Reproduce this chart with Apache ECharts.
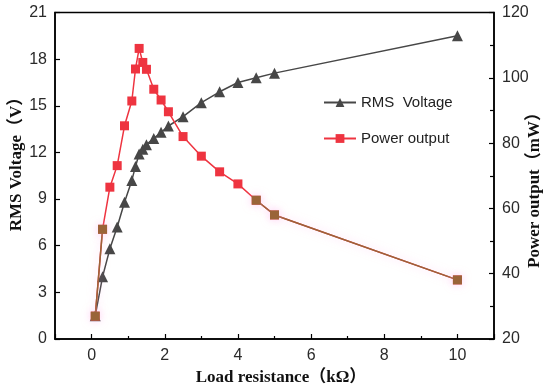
<!DOCTYPE html>
<html><head><meta charset="utf-8">
<script src="https://cdn.jsdelivr.net/npm/echarts@6/dist/echarts.min.js"></script>
<style>html,body{margin:0;padding:0;background:#fff}#c{width:550px;height:388px}</style>
</head><body><div id="c"></div>
<script>
// ---- data ----
const resistance  = [0.1, 0.3, 0.5, 0.7, 0.9, 1.1, 1.2, 1.3, 1.4, 1.5, 1.7, 1.9, 2.1, 2.5, 3.0, 3.5, 4.0, 4.5, 5.0, 10.0];
const rmsVoltage  = [1.5, 4.0, 5.8, 7.2, 8.8, 10.2, 11.1, 11.9, 12.2, 12.5, 12.9, 13.3, 13.7, 14.3, 15.2, 15.9, 16.5, 16.8, 17.1, 19.5];
const powerOutput = [27.0, 53.6, 66.5, 73.1, 85.3, 92.9, 102.7, 109.0, 104.7, 102.6, 96.5, 93.2, 89.6, 82.0, 76.0, 71.2, 67.5, 62.5, 58.0, 38.1];
const seriesNames = ['RMS  Voltage', 'Power output'];
const xTitle = 'Load resistance（kΩ）';
const leftTitle = 'RMS Voltage（V）';
const rightTitle = 'Power output（mW）';
// index ranges of the power curve that appear brown in the original
const brownRanges = [[0, 1], [17, 19]];

const vData = resistance.map((x, i) => [x, rmsVoltage[i]]);
const pData = resistance.map((x, i) => [x, powerOutput[i]]);

const GRAY = '#474747', RED = '#EE3440', BROWN = '#9A6438';
const titleFont = 'bold 17px "Liberation Serif", "Times New Roman", "Noto Sans CJK SC", serif';
const tickFont = { fontFamily: 'Liberation Sans', fontSize: 16, color: '#2a2a2a' };

const chart = echarts.init(document.getElementById('c'), null, { renderer: 'canvas' });

const brownSeries = brownRanges.map((r, k) => ({
  name: 'brown' + k,
  type: 'line',
  yAxisIndex: 1,
  data: pData.slice(r[0], r[1] + 1),
  symbol: 'rect',
  symbolSize: 9,
  z: 4,
  silent: true,
  lineStyle: { color: BROWN, width: 1.5, shadowColor: 'rgba(255,160,230,0.55)', shadowBlur: 8 },
  itemStyle: { color: BROWN, shadowColor: 'rgba(255,160,230,0.55)', shadowBlur: 8 },
  animation: false
}));

chart.setOption({
  animation: false,
  grid: { left: 55, right: 56, top: 12.5, bottom: 49, show: true, borderColor: '#000', borderWidth: 1.5, backgroundColor: 'transparent' },
  legend: {
    data: seriesNames,
    orient: 'vertical',
    left: 318, top: 90,
    itemWidth: 32, itemHeight: 11, itemGap: 21,
    textStyle: { fontFamily: 'Liberation Sans', fontSize: 15, color: '#222' }
  },
  xAxis: {
    type: 'value', min: -1, max: 11, splitNumber: 6,
    axisLine: { onZero: false, lineStyle: { color: '#000', width: 1.5 } },
    axisTick: { inside: true, length: 5, lineStyle: { color: '#000', width: 1.2 } },
    minorTick: { show: true, splitNumber: 2, length: 3, lineStyle: { color: '#000', width: 1.2 } },
    axisLabel: Object.assign({ margin: 9, showMinLabel: false, showMaxLabel: false,
      formatter: v => (v < 0 || v > 10) ? '' : String(v) }, tickFont),
    splitLine: { show: false }
  },
  yAxis: [
    {
      type: 'value', min: 0, max: 21, interval: 3, position: 'left',
      axisLine: { show: true, onZero: false, lineStyle: { color: '#000', width: 1.5 } },
      axisTick: { show: true, inside: true, length: 5, lineStyle: { color: '#000', width: 1.2 } },
      axisLabel: Object.assign({ margin: 8 }, tickFont),
      splitLine: { show: false }
    },
    {
      type: 'value', min: 20, max: 120, interval: 20, position: 'right',
      axisLine: { show: true, onZero: false, lineStyle: { color: '#000', width: 1.5 } },
      axisTick: { show: true, inside: true, length: 5, lineStyle: { color: '#000', width: 1.2 } },
      minorTick: { show: true, splitNumber: 2, length: 4, lineStyle: { color: '#000', width: 1.2 } },
      axisLabel: Object.assign({ margin: 8 }, tickFont),
      splitLine: { show: false }
    }
  ],
  series: [
    {
      name: seriesNames[0], type: 'line', yAxisIndex: 0, data: vData,
      symbol: 'triangle', symbolSize: 11, z: 2,
      lineStyle: { color: GRAY, width: 1.5 }, itemStyle: { color: GRAY }
    },
    {
      name: seriesNames[1], type: 'line', yAxisIndex: 1, data: pData,
      symbol: 'rect', symbolSize: 9, z: 3,
      lineStyle: { color: RED, width: 1.5 }, itemStyle: { color: RED }
    }
  ].concat(brownSeries),
  graphic: [
    { type: 'text', x: 281, y: 378, style: { text: xTitle, font: titleFont, fill: '#111', textAlign: 'center', textVerticalAlign: 'middle' } },
    { type: 'text', x: 17, y: 160, rotation: Math.PI / 2, style: { text: leftTitle, font: titleFont, fill: '#111', textAlign: 'center', textVerticalAlign: 'middle' } },
    { type: 'text', x: 535, y: 186, rotation: Math.PI / 2, style: { text: rightTitle, font: titleFont, fill: '#111', textAlign: 'center', textVerticalAlign: 'middle' } }
  ]
});
</script></body></html>
